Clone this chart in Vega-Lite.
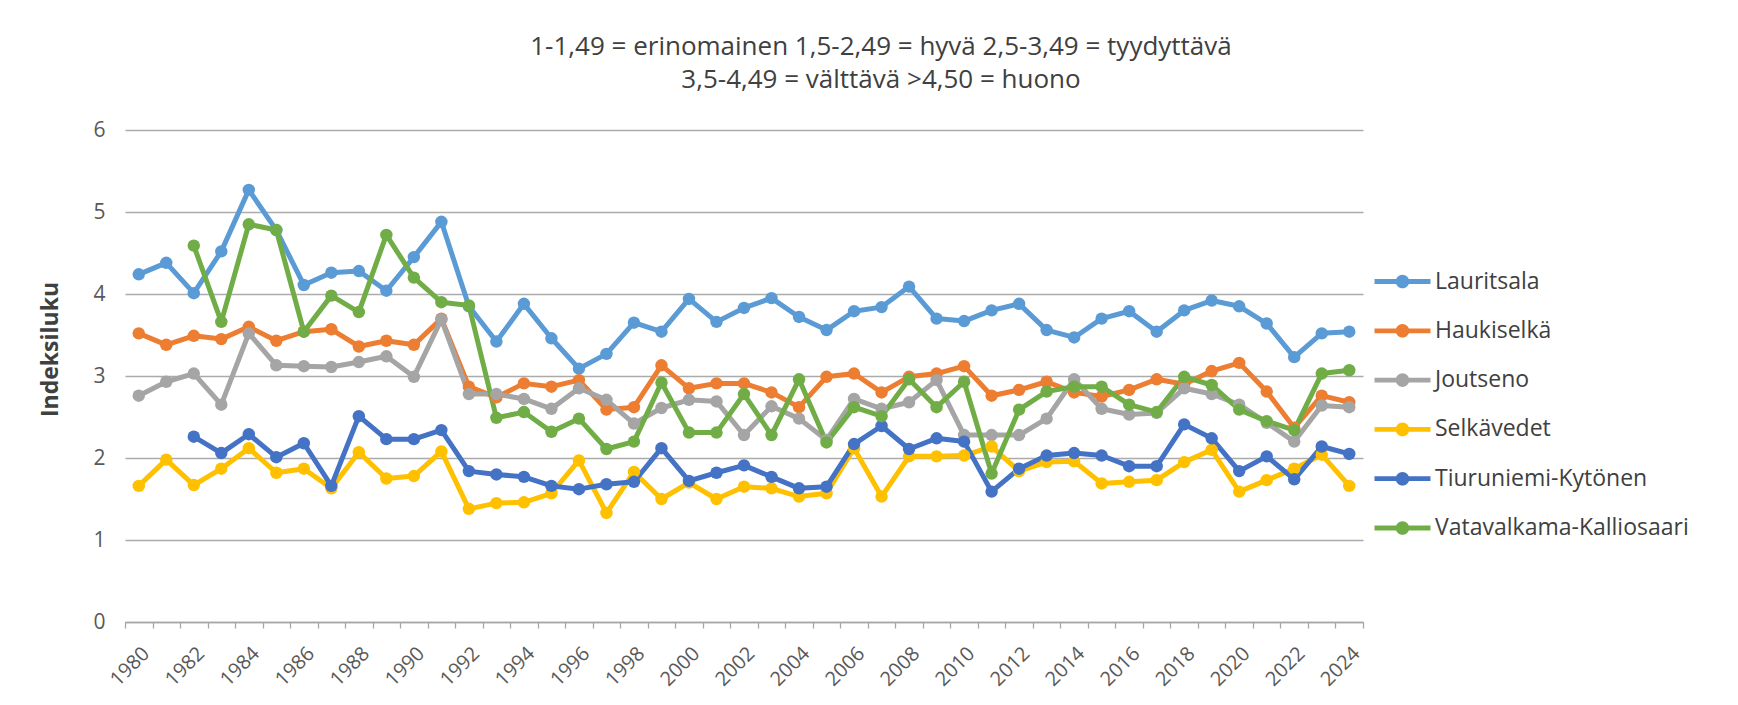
{
  "$schema": "https://vega.github.io/schema/vega-lite/v6.json",
  "width": 1238,
  "height": 492,
  "autosize": {"type": "none"},
  "padding": {"left": 125, "top": 130, "right": 375, "bottom": 83},
  "background": "white",
  "title": {
    "text": ["1-1,49 = erinomainen 1,5-2,49 = hyvä 2,5-3,49 = tyydyttävä", "3,5-4,49 = välttävä >4,50 = huono"],
    "anchor": "middle",
    "dx": 137,
    "offset": 26,
    "font": "Open Sans",
    "fontSize": 26,
    "fontWeight": "normal",
    "color": "#404040",
    "lineHeight": 33.5
  },
  "data": {"values": [
    {"year":1980,"site":"Lauritsala","value":4.24},{"year":1981,"site":"Lauritsala","value":4.38},{"year":1982,"site":"Lauritsala","value":4.01},{"year":1983,"site":"Lauritsala","value":4.52},{"year":1984,"site":"Lauritsala","value":5.27},{"year":1985,"site":"Lauritsala","value":4.78},{"year":1986,"site":"Lauritsala","value":4.11},{"year":1987,"site":"Lauritsala","value":4.26},{"year":1988,"site":"Lauritsala","value":4.28},{"year":1989,"site":"Lauritsala","value":4.04},{"year":1990,"site":"Lauritsala","value":4.45},{"year":1991,"site":"Lauritsala","value":4.88},{"year":1992,"site":"Lauritsala","value":3.85},{"year":1993,"site":"Lauritsala","value":3.42},{"year":1994,"site":"Lauritsala","value":3.88},{"year":1995,"site":"Lauritsala","value":3.46},{"year":1996,"site":"Lauritsala","value":3.09},{"year":1997,"site":"Lauritsala","value":3.27},{"year":1998,"site":"Lauritsala","value":3.65},{"year":1999,"site":"Lauritsala","value":3.54},{"year":2000,"site":"Lauritsala","value":3.94},{"year":2001,"site":"Lauritsala","value":3.66},{"year":2002,"site":"Lauritsala","value":3.83},{"year":2003,"site":"Lauritsala","value":3.95},{"year":2004,"site":"Lauritsala","value":3.72},{"year":2005,"site":"Lauritsala","value":3.56},{"year":2006,"site":"Lauritsala","value":3.79},{"year":2007,"site":"Lauritsala","value":3.84},{"year":2008,"site":"Lauritsala","value":4.09},{"year":2009,"site":"Lauritsala","value":3.70},{"year":2010,"site":"Lauritsala","value":3.67},{"year":2011,"site":"Lauritsala","value":3.80},{"year":2012,"site":"Lauritsala","value":3.88},{"year":2013,"site":"Lauritsala","value":3.56},{"year":2014,"site":"Lauritsala","value":3.47},{"year":2015,"site":"Lauritsala","value":3.70},{"year":2016,"site":"Lauritsala","value":3.79},{"year":2017,"site":"Lauritsala","value":3.54},{"year":2018,"site":"Lauritsala","value":3.80},{"year":2019,"site":"Lauritsala","value":3.92},{"year":2020,"site":"Lauritsala","value":3.85},{"year":2021,"site":"Lauritsala","value":3.64},{"year":2022,"site":"Lauritsala","value":3.23},{"year":2023,"site":"Lauritsala","value":3.52},{"year":2024,"site":"Lauritsala","value":3.54},
    {"year":1980,"site":"Haukiselkä","value":3.52},{"year":1981,"site":"Haukiselkä","value":3.38},{"year":1982,"site":"Haukiselkä","value":3.49},{"year":1983,"site":"Haukiselkä","value":3.45},{"year":1984,"site":"Haukiselkä","value":3.60},{"year":1985,"site":"Haukiselkä","value":3.43},{"year":1986,"site":"Haukiselkä","value":3.54},{"year":1987,"site":"Haukiselkä","value":3.57},{"year":1988,"site":"Haukiselkä","value":3.36},{"year":1989,"site":"Haukiselkä","value":3.43},{"year":1990,"site":"Haukiselkä","value":3.38},{"year":1991,"site":"Haukiselkä","value":3.70},{"year":1992,"site":"Haukiselkä","value":2.87},{"year":1993,"site":"Haukiselkä","value":2.74},{"year":1994,"site":"Haukiselkä","value":2.91},{"year":1995,"site":"Haukiselkä","value":2.87},{"year":1996,"site":"Haukiselkä","value":2.95},{"year":1997,"site":"Haukiselkä","value":2.59},{"year":1998,"site":"Haukiselkä","value":2.62},{"year":1999,"site":"Haukiselkä","value":3.13},{"year":2000,"site":"Haukiselkä","value":2.85},{"year":2001,"site":"Haukiselkä","value":2.91},{"year":2002,"site":"Haukiselkä","value":2.91},{"year":2003,"site":"Haukiselkä","value":2.80},{"year":2004,"site":"Haukiselkä","value":2.62},{"year":2005,"site":"Haukiselkä","value":2.99},{"year":2006,"site":"Haukiselkä","value":3.03},{"year":2007,"site":"Haukiselkä","value":2.80},{"year":2008,"site":"Haukiselkä","value":2.99},{"year":2009,"site":"Haukiselkä","value":3.03},{"year":2010,"site":"Haukiselkä","value":3.12},{"year":2011,"site":"Haukiselkä","value":2.76},{"year":2012,"site":"Haukiselkä","value":2.83},{"year":2013,"site":"Haukiselkä","value":2.93},{"year":2014,"site":"Haukiselkä","value":2.80},{"year":2015,"site":"Haukiselkä","value":2.75},{"year":2016,"site":"Haukiselkä","value":2.83},{"year":2017,"site":"Haukiselkä","value":2.96},{"year":2018,"site":"Haukiselkä","value":2.90},{"year":2019,"site":"Haukiselkä","value":3.06},{"year":2020,"site":"Haukiselkä","value":3.16},{"year":2021,"site":"Haukiselkä","value":2.81},{"year":2022,"site":"Haukiselkä","value":2.37},{"year":2023,"site":"Haukiselkä","value":2.76},{"year":2024,"site":"Haukiselkä","value":2.68},
    {"year":1980,"site":"Joutseno","value":2.76},{"year":1981,"site":"Joutseno","value":2.93},{"year":1982,"site":"Joutseno","value":3.03},{"year":1983,"site":"Joutseno","value":2.65},{"year":1984,"site":"Joutseno","value":3.52},{"year":1985,"site":"Joutseno","value":3.13},{"year":1986,"site":"Joutseno","value":3.12},{"year":1987,"site":"Joutseno","value":3.11},{"year":1988,"site":"Joutseno","value":3.17},{"year":1989,"site":"Joutseno","value":3.24},{"year":1990,"site":"Joutseno","value":2.99},{"year":1991,"site":"Joutseno","value":3.69},{"year":1992,"site":"Joutseno","value":2.78},{"year":1993,"site":"Joutseno","value":2.78},{"year":1994,"site":"Joutseno","value":2.72},{"year":1995,"site":"Joutseno","value":2.60},{"year":1996,"site":"Joutseno","value":2.85},{"year":1997,"site":"Joutseno","value":2.71},{"year":1998,"site":"Joutseno","value":2.42},{"year":1999,"site":"Joutseno","value":2.61},{"year":2000,"site":"Joutseno","value":2.71},{"year":2001,"site":"Joutseno","value":2.69},{"year":2002,"site":"Joutseno","value":2.28},{"year":2003,"site":"Joutseno","value":2.63},{"year":2004,"site":"Joutseno","value":2.48},{"year":2005,"site":"Joutseno","value":2.22},{"year":2006,"site":"Joutseno","value":2.72},{"year":2007,"site":"Joutseno","value":2.60},{"year":2008,"site":"Joutseno","value":2.68},{"year":2009,"site":"Joutseno","value":2.95},{"year":2010,"site":"Joutseno","value":2.28},{"year":2011,"site":"Joutseno","value":2.28},{"year":2012,"site":"Joutseno","value":2.28},{"year":2013,"site":"Joutseno","value":2.48},{"year":2014,"site":"Joutseno","value":2.96},{"year":2015,"site":"Joutseno","value":2.60},{"year":2016,"site":"Joutseno","value":2.53},{"year":2017,"site":"Joutseno","value":2.55},{"year":2018,"site":"Joutseno","value":2.85},{"year":2019,"site":"Joutseno","value":2.78},{"year":2020,"site":"Joutseno","value":2.65},{"year":2021,"site":"Joutseno","value":2.43},{"year":2022,"site":"Joutseno","value":2.20},{"year":2023,"site":"Joutseno","value":2.64},{"year":2024,"site":"Joutseno","value":2.62},
    {"year":1980,"site":"Selkävedet","value":1.66},{"year":1981,"site":"Selkävedet","value":1.98},{"year":1982,"site":"Selkävedet","value":1.67},{"year":1983,"site":"Selkävedet","value":1.87},{"year":1984,"site":"Selkävedet","value":2.12},{"year":1985,"site":"Selkävedet","value":1.82},{"year":1986,"site":"Selkävedet","value":1.87},{"year":1987,"site":"Selkävedet","value":1.63},{"year":1988,"site":"Selkävedet","value":2.07},{"year":1989,"site":"Selkävedet","value":1.75},{"year":1990,"site":"Selkävedet","value":1.78},{"year":1991,"site":"Selkävedet","value":2.08},{"year":1992,"site":"Selkävedet","value":1.38},{"year":1993,"site":"Selkävedet","value":1.45},{"year":1994,"site":"Selkävedet","value":1.46},{"year":1995,"site":"Selkävedet","value":1.57},{"year":1996,"site":"Selkävedet","value":1.97},{"year":1997,"site":"Selkävedet","value":1.33},{"year":1998,"site":"Selkävedet","value":1.83},{"year":1999,"site":"Selkävedet","value":1.50},{"year":2000,"site":"Selkävedet","value":1.70},{"year":2001,"site":"Selkävedet","value":1.50},{"year":2002,"site":"Selkävedet","value":1.65},{"year":2003,"site":"Selkävedet","value":1.63},{"year":2004,"site":"Selkävedet","value":1.53},{"year":2005,"site":"Selkävedet","value":1.57},{"year":2006,"site":"Selkävedet","value":2.12},{"year":2007,"site":"Selkävedet","value":1.53},{"year":2008,"site":"Selkävedet","value":2.02},{"year":2009,"site":"Selkävedet","value":2.02},{"year":2010,"site":"Selkävedet","value":2.03},{"year":2011,"site":"Selkävedet","value":2.14},{"year":2012,"site":"Selkävedet","value":1.84},{"year":2013,"site":"Selkävedet","value":1.95},{"year":2014,"site":"Selkävedet","value":1.96},{"year":2015,"site":"Selkävedet","value":1.69},{"year":2016,"site":"Selkävedet","value":1.71},{"year":2017,"site":"Selkävedet","value":1.73},{"year":2018,"site":"Selkävedet","value":1.95},{"year":2019,"site":"Selkävedet","value":2.10},{"year":2020,"site":"Selkävedet","value":1.59},{"year":2021,"site":"Selkävedet","value":1.73},{"year":2022,"site":"Selkävedet","value":1.87},{"year":2023,"site":"Selkävedet","value":2.04},{"year":2024,"site":"Selkävedet","value":1.66},
    {"year":1982,"site":"Tiuruniemi-Kytönen","value":2.26},{"year":1983,"site":"Tiuruniemi-Kytönen","value":2.06},{"year":1984,"site":"Tiuruniemi-Kytönen","value":2.29},{"year":1985,"site":"Tiuruniemi-Kytönen","value":2.01},{"year":1986,"site":"Tiuruniemi-Kytönen","value":2.18},{"year":1987,"site":"Tiuruniemi-Kytönen","value":1.66},{"year":1988,"site":"Tiuruniemi-Kytönen","value":2.51},{"year":1989,"site":"Tiuruniemi-Kytönen","value":2.23},{"year":1990,"site":"Tiuruniemi-Kytönen","value":2.23},{"year":1991,"site":"Tiuruniemi-Kytönen","value":2.34},{"year":1992,"site":"Tiuruniemi-Kytönen","value":1.84},{"year":1993,"site":"Tiuruniemi-Kytönen","value":1.80},{"year":1994,"site":"Tiuruniemi-Kytönen","value":1.77},{"year":1995,"site":"Tiuruniemi-Kytönen","value":1.66},{"year":1996,"site":"Tiuruniemi-Kytönen","value":1.62},{"year":1997,"site":"Tiuruniemi-Kytönen","value":1.68},{"year":1998,"site":"Tiuruniemi-Kytönen","value":1.71},{"year":1999,"site":"Tiuruniemi-Kytönen","value":2.12},{"year":2000,"site":"Tiuruniemi-Kytönen","value":1.72},{"year":2001,"site":"Tiuruniemi-Kytönen","value":1.82},{"year":2002,"site":"Tiuruniemi-Kytönen","value":1.91},{"year":2003,"site":"Tiuruniemi-Kytönen","value":1.77},{"year":2004,"site":"Tiuruniemi-Kytönen","value":1.63},{"year":2005,"site":"Tiuruniemi-Kytönen","value":1.65},{"year":2006,"site":"Tiuruniemi-Kytönen","value":2.17},{"year":2007,"site":"Tiuruniemi-Kytönen","value":2.39},{"year":2008,"site":"Tiuruniemi-Kytönen","value":2.11},{"year":2009,"site":"Tiuruniemi-Kytönen","value":2.24},{"year":2010,"site":"Tiuruniemi-Kytönen","value":2.20},{"year":2011,"site":"Tiuruniemi-Kytönen","value":1.59},{"year":2012,"site":"Tiuruniemi-Kytönen","value":1.87},{"year":2013,"site":"Tiuruniemi-Kytönen","value":2.03},{"year":2014,"site":"Tiuruniemi-Kytönen","value":2.06},{"year":2015,"site":"Tiuruniemi-Kytönen","value":2.03},{"year":2016,"site":"Tiuruniemi-Kytönen","value":1.90},{"year":2017,"site":"Tiuruniemi-Kytönen","value":1.90},{"year":2018,"site":"Tiuruniemi-Kytönen","value":2.41},{"year":2019,"site":"Tiuruniemi-Kytönen","value":2.24},{"year":2020,"site":"Tiuruniemi-Kytönen","value":1.84},{"year":2021,"site":"Tiuruniemi-Kytönen","value":2.02},{"year":2022,"site":"Tiuruniemi-Kytönen","value":1.74},{"year":2023,"site":"Tiuruniemi-Kytönen","value":2.14},{"year":2024,"site":"Tiuruniemi-Kytönen","value":2.05},
    {"year":1982,"site":"Vatavalkama-Kalliosaari","value":4.59},{"year":1983,"site":"Vatavalkama-Kalliosaari","value":3.66},{"year":1984,"site":"Vatavalkama-Kalliosaari","value":4.85},{"year":1985,"site":"Vatavalkama-Kalliosaari","value":4.78},{"year":1986,"site":"Vatavalkama-Kalliosaari","value":3.54},{"year":1987,"site":"Vatavalkama-Kalliosaari","value":3.98},{"year":1988,"site":"Vatavalkama-Kalliosaari","value":3.78},{"year":1989,"site":"Vatavalkama-Kalliosaari","value":4.72},{"year":1990,"site":"Vatavalkama-Kalliosaari","value":4.20},{"year":1991,"site":"Vatavalkama-Kalliosaari","value":3.90},{"year":1992,"site":"Vatavalkama-Kalliosaari","value":3.86},{"year":1993,"site":"Vatavalkama-Kalliosaari","value":2.49},{"year":1994,"site":"Vatavalkama-Kalliosaari","value":2.56},{"year":1995,"site":"Vatavalkama-Kalliosaari","value":2.32},{"year":1996,"site":"Vatavalkama-Kalliosaari","value":2.48},{"year":1997,"site":"Vatavalkama-Kalliosaari","value":2.11},{"year":1998,"site":"Vatavalkama-Kalliosaari","value":2.20},{"year":1999,"site":"Vatavalkama-Kalliosaari","value":2.92},{"year":2000,"site":"Vatavalkama-Kalliosaari","value":2.31},{"year":2001,"site":"Vatavalkama-Kalliosaari","value":2.31},{"year":2002,"site":"Vatavalkama-Kalliosaari","value":2.78},{"year":2003,"site":"Vatavalkama-Kalliosaari","value":2.28},{"year":2004,"site":"Vatavalkama-Kalliosaari","value":2.96},{"year":2005,"site":"Vatavalkama-Kalliosaari","value":2.19},{"year":2006,"site":"Vatavalkama-Kalliosaari","value":2.62},{"year":2007,"site":"Vatavalkama-Kalliosaari","value":2.51},{"year":2008,"site":"Vatavalkama-Kalliosaari","value":2.96},{"year":2009,"site":"Vatavalkama-Kalliosaari","value":2.62},{"year":2010,"site":"Vatavalkama-Kalliosaari","value":2.93},{"year":2011,"site":"Vatavalkama-Kalliosaari","value":1.81},{"year":2012,"site":"Vatavalkama-Kalliosaari","value":2.59},{"year":2013,"site":"Vatavalkama-Kalliosaari","value":2.81},{"year":2014,"site":"Vatavalkama-Kalliosaari","value":2.87},{"year":2015,"site":"Vatavalkama-Kalliosaari","value":2.87},{"year":2016,"site":"Vatavalkama-Kalliosaari","value":2.65},{"year":2017,"site":"Vatavalkama-Kalliosaari","value":2.56},{"year":2018,"site":"Vatavalkama-Kalliosaari","value":2.99},{"year":2019,"site":"Vatavalkama-Kalliosaari","value":2.89},{"year":2020,"site":"Vatavalkama-Kalliosaari","value":2.59},{"year":2021,"site":"Vatavalkama-Kalliosaari","value":2.45},{"year":2022,"site":"Vatavalkama-Kalliosaari","value":2.34},{"year":2023,"site":"Vatavalkama-Kalliosaari","value":3.03},{"year":2024,"site":"Vatavalkama-Kalliosaari","value":3.07}
  ]},
  "mark": {
    "type": "line",
    "strokeWidth": 5,
    "strokeJoin": "round",
    "strokeCap": "round",
    "point": {"filled": true, "size": 155, "opacity": 1}
  },
  "encoding": {
    "x": {
      "field": "year",
      "type": "ordinal",
      "bandPosition": 0.5,
      "scale": {"type": "band", "paddingInner": 0, "paddingOuter": 0},
      "axis": {
        "title": null,
        "labelAngle": -45,
        "labelExpr": "datum.value % 2 == 0 ? datum.label : ''",
        "labelOverlap": false,
        "tickBand": "extent",
        "ticks": true,
        "tickSize": 6,
        "tickColor": "#A6A6A6",
        "tickWidth": 1.3,
        "domainColor": "#A6A6A6",
        "domainWidth": 1.3,
        "grid": false,
        "labelFont": "Open Sans",
        "labelFontSize": 20,
        "labelColor": "#595959",
        "labelPadding": 15
      }
    },
    "y": {
      "field": "value",
      "type": "quantitative",
      "scale": {"domain": [0, 6], "nice": false},
      "axis": {
        "values": [0, 1, 2, 3, 4, 5, 6],
        "domain": false,
        "ticks": false,
        "tickSize": 0,
        "grid": true,
        "gridColor": "#ABABAB",
        "gridWidth": 1.3,
        "labelFont": "Open Sans",
        "labelFontSize": 21,
        "labelColor": "#595959",
        "labelPadding": 20,
        "title": "Indeksiluku",
        "titleFont": "Open Sans",
        "titleFontSize": 23,
        "titleFontWeight": "bold",
        "titleColor": "#404040",
        "titleAngle": 270,
        "titleAlign": "center",
        "titleBaseline": "middle",
        "titleX": -75,
        "titleY": 219
      }
    },
    "color": {
      "field": "site",
      "type": "nominal",
      "scale": {
        "domain": ["Lauritsala", "Haukiselkä", "Joutseno", "Selkävedet", "Tiuruniemi-Kytönen", "Vatavalkama-Kalliosaari"],
        "range": ["#5B9BD5", "#ED7D31", "#A5A5A5", "#FFC000", "#4472C4", "#70AD47"]
      },
      "legend": {
        "title": null,
        "orient": "none",
        "legendX": 1266,
        "legendY": 140,
        "padding": 0,
        "symbolType": "M-2.8,-0.24L2.8,-0.24L2.8,0.24L-2.8,0.24ZM-0.68,0A0.68,0.68 0 1,1 0.68,0A0.68,0.68 0 1,1 -0.68,0Z",
        "symbolSize": 400,
        "symbolStrokeWidth": 0,
        "labelOffset": 21,
        "rowPadding": 25.3,
        "labelFont": "Open Sans",
        "labelFontSize": 23,
        "labelColor": "#404040",
        "labelLimit": 0,
        "encode": {
          "symbols": {
            "update": {
              "fill": {"scale": "color", "field": "value"},
              "stroke": {"value": "transparent"},
              "strokeWidth": {"value": 0},
              "opacity": {"value": 1}
            }
          }
        }
      }
    }
  },
  "config": {"view": {"stroke": null}, "font": "Open Sans"}
}
